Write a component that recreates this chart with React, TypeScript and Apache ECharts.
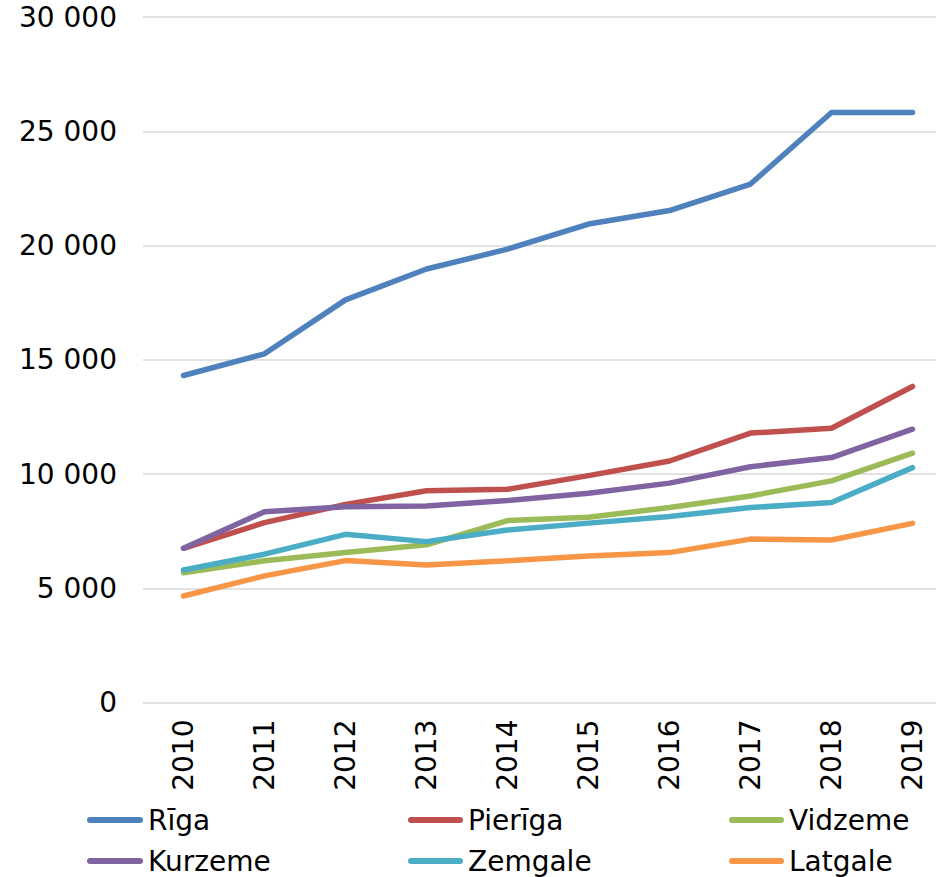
import React, { useEffect, useRef } from "react";
import * as echarts from "echarts";

const years = ["2010", "2011", "2012", "2013", "2014", "2015", "2016", "2017", "2018", "2019"];

const riga = [14310, 15260, 17620, 18970, 19840, 20940, 21530, 22690, 25820, 25820];
const pieriga = [6750, 7870, 8670, 9270, 9330, 9930, 10570, 11790, 12000, 13830];
const vidzeme = [5680, 6200, 6560, 6900, 7960, 8110, 8530, 9040, 9700, 10910];
const kurzeme = [6750, 8350, 8570, 8600, 8840, 9160, 9600, 10320, 10720, 11960];
const zemgale = [5800, 6490, 7360, 7040, 7550, 7850, 8140, 8530, 8750, 10280];
const latgale = [4660, 5540, 6210, 6020, 6200, 6410, 6560, 7150, 7110, 7840];

const seriesNames = ["Rīga", "Pierīga", "Vidzeme", "Kurzeme", "Zemgale", "Latgale"];
const seriesData = [riga, pieriga, vidzeme, kurzeme, zemgale, latgale];
const colors = ["#4F81BD", "#C0504D", "#9BBB59", "#8064A2", "#4BACC6", "#F79646"];

const yTicks = { min: 0, max: 30000, interval: 5000 };

const FONT = "'DejaVu Sans', Verdana, sans-serif";

function fmt(v: number): string {
  return String(v).replace(/\B(?=(\d{3})+(?!\d))/g, " ");
}

export default function App() {
  const ref = useRef<HTMLDivElement>(null);

  useEffect(() => {
    if (!ref.current) return;
    const chart = echarts.init(ref.current, null, { renderer: "svg" });

    const legendPos = [
      { left: 87, top: 805, w: 56 },
      { left: 408, top: 805, w: 55 },
      { left: 729, top: 805, w: 55 },
      { left: 87, top: 846, w: 56 },
      { left: 408, top: 846, w: 55 },
      { left: 729, top: 846, w: 55 },
    ];

    const legends = seriesNames.map((name, i) => ({
      show: true,
      left: legendPos[i].left,
      top: legendPos[i].top,
      padding: 0,
      itemGap: 0,
      itemWidth: legendPos[i].w,
      itemHeight: 6,
      icon: `path://M3 0H${legendPos[i].w - 3}A3 3 0 0 1 ${legendPos[i].w - 3} 6H3A3 3 0 0 1 3 0Z`,
      itemStyle: { borderWidth: 0, color: colors[i] },
      selectedMode: false,
      data: [name],
      textStyle: {
        fontFamily: FONT,
        fontSize: 28,
        color: "#000000",
        lineHeight: 30,
      },
    }));

    chart.setOption({
      animation: false,
      color: colors,
      backgroundColor: "#ffffff",
      legend: legends,
      grid: {
        left: 143,
        right: -17,
        top: 17,
        bottom: 174.5,
        containLabel: false,
        outerBoundsMode: "none",
      },
      xAxis: {
        type: "category",
        data: years,
        boundaryGap: true,
        axisLine: { show: false },
        axisTick: { show: false },
        axisLabel: {
          rotate: 90,
          margin: 17,
          fontFamily: FONT,
          fontSize: 28,
          color: "#000000",
          interval: 0,
        },
        splitLine: { show: false },
      },
      yAxis: {
        type: "value",
        min: yTicks.min,
        max: yTicks.max,
        interval: yTicks.interval,
        axisLine: { show: false },
        axisTick: { show: false },
        axisLabel: {
          margin: 26,
          fontFamily: FONT,
          fontSize: 28,
          color: "#000000",
          formatter: (v: number) => fmt(v),
        },
        splitLine: { show: true, lineStyle: { color: "#D9D9D9", width: 1.5 } },
      },
      series: seriesNames.map((name, i) => ({
        name,
        type: "line",
        data: seriesData[i],
        symbol: "none",
        showSymbol: false,
        smooth: false,
        clip: false,
        itemStyle: { color: colors[i] },
        lineStyle: { color: colors[i], width: 5.5, cap: "round", join: "round" },
        emphasis: { disabled: true },
      })),
    });

    return () => {
      chart.dispose();
    };
  }, []);

  return (
    <div
      ref={ref}
      style={{ position: "fixed", left: 0, top: 0, width: 936, height: 877, background: "#fff" }}
    />
  );
}
